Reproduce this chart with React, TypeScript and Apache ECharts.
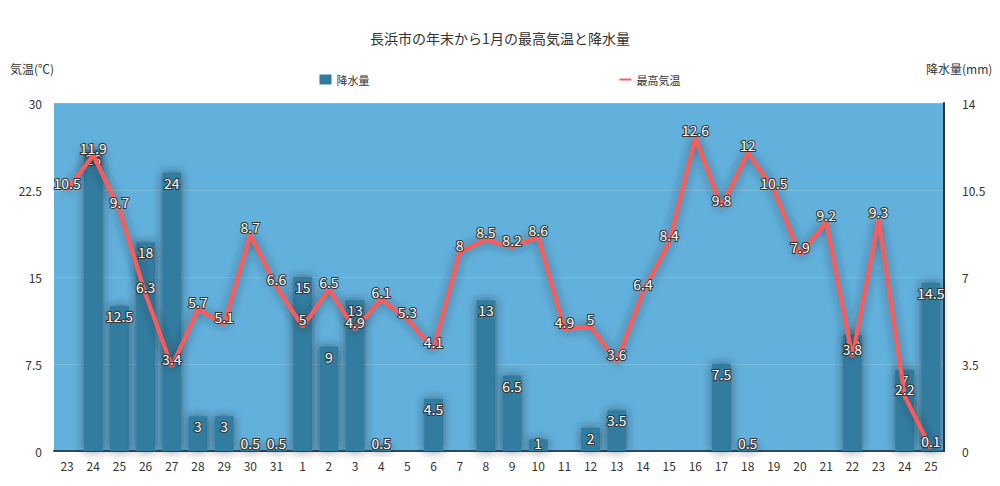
import React from "react";
import * as echarts from "echarts";

const days = [
  "23", "24", "25", "26", "27", "28", "29", "30", "31",
  "1", "2", "3", "4", "5", "6", "7", "8", "9", "10", "11", "12", "13",
  "14", "15", "16", "17", "18", "19", "20", "21", "22", "23", "24", "25",
];
const rain = [
  null, 26, 12.5, 18, 24, 3, 3, 0.5, 0.5,
  15, 9, 13, 0.5, null, 4.5, null, 13, 6.5, 1, null, 2, 3.5,
  null, null, null, 7.5, 0.5, null, null, null, 10, null, 7, 14.5,
];
const maxTemp = [
  10.5, 11.9, 9.7, 6.3, 3.4, 5.7, 5.1, 8.7, 6.6,
  5, 6.5, 4.9, 6.1, 5.3, 4.1, 8, 8.5, 8.2, 8.6, 4.9, 5, 3.6,
  6.4, 8.4, 12.6, 9.8, 12, 10.5, 7.9, 9.2, 3.8, 9.3, 2.2, 0.1,
];

const font = "'Noto Sans CJK JP', 'Noto Sans', sans-serif";

const labelStyle = {
  show: true,
  color: "#fff",
  fontSize: 14,
  fontFamily: font,
  textBorderColor: "#333",
  textBorderWidth: 2,
};

export default function App() {
  const chartRef = React.useRef<HTMLDivElement>(null);
  React.useEffect(() => {
    document.body.style.margin = "0";
    const chart = echarts.init(chartRef.current, null, { renderer: "svg" });
    chart.setOption({
      animation: false,
      textStyle: { fontFamily: font },
      title: {
        text: "長浜市の年末から1月の最高気温と降水量",
        left: "center",
        top: 26,
        textStyle: { fontSize: 14, fontWeight: "normal", color: "#333" },
      },
      legend: {
        top: 69,
        left: "center",
        itemGap: 250,
        itemWidth: 12,
        itemHeight: 10,
        textStyle: { fontSize: 11, color: "#333" },
        data: [
          { name: "降水量", icon: "rect" },
          { name: "最高気温", icon: "path://M0,0 M12,10 M0,4 L12,4 L12,6 L0,6 Z" },
        ],
      },
      grid: {
        left: 54,
        right: 56,
        top: 103,
        bottom: 35,
        show: true,
        backgroundColor: "#62b0dc",
        borderWidth: 0,
      },
      xAxis: {
        type: "category",
        data: days,
        axisTick: { show: false },
        axisLine: { lineStyle: { color: "#2d4a5e", width: 2 } },
        axisLabel: { color: "#333", fontSize: 12 },
      },
      yAxis: [
        {
          type: "value",
          name: "気温(℃)",
          nameTextStyle: { color: "#333", fontSize: 12, align: "right", padding: [0, 0, 14, 0] },
          min: 0,
          max: 30,
          interval: 7.5,
          axisLabel: { color: "#333", fontSize: 12, margin: 12 },
          splitLine: { lineStyle: { color: "#7dbbd8", width: 1 } },
        },
        {
          type: "value",
          name: "降水量(mm)",
          nameTextStyle: { color: "#333", fontSize: 12, align: "left", padding: [0, 0, 14, -18] },
          min: 0,
          max: 14,
          interval: 3.5,
          axisLine: { show: true, lineStyle: { color: "#333", width: 2 } },
          axisLabel: { color: "#333", fontSize: 12, margin: 18 },
          splitLine: { show: false },
        },
      ],
      series: [
        {
          name: "降水量",
          type: "bar",
          yAxisIndex: 0,
          data: rain.map((v) =>
            v !== null && v <= 1
              ? { value: v, label: { position: "insideBottom", distance: 1 } }
              : v
          ),
          barWidth: "72%",
          itemStyle: {
            color: "#337ba0",
            shadowColor: "rgba(40,40,40,0.6)",
            shadowBlur: 10,
          },
          label: { ...labelStyle, position: "insideTop", distance: 3 },
        },
        {
          name: "最高気温",
          type: "line",
          yAxisIndex: 1,
          data: maxTemp,
          symbol: "circle",
          symbolSize: 1,
          lineStyle: {
            color: "#ff5a5a",
            width: 4,
            shadowColor: "rgba(40,40,40,0.6)",
            shadowBlur: 10,
          },
          itemStyle: { color: "#ff5a5a" },
          label: { ...labelStyle, position: "top", distance: 0 },
        },
      ],
    });
    return () => chart.dispose();
  }, []);
  return <div ref={chartRef} style={{ width: 1000, height: 486 }} />;
}
